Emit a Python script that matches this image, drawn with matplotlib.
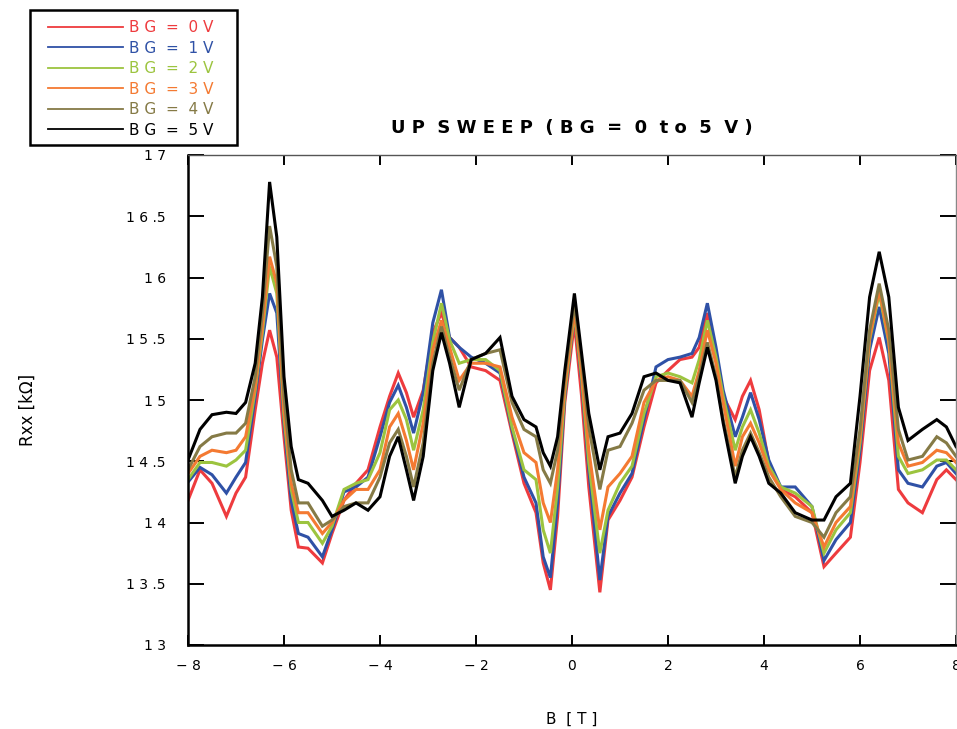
import matplotlib
matplotlib.use("Agg")
import matplotlib.pyplot as plt
from matplotlib.patches import Rectangle

# ---- data ----
B = [-8.0, -7.75, -7.5, -7.2, -7.0, -6.8, -6.6, -6.45, -6.3, -6.15, -6.0, -5.85, -5.7, -5.5,
     -5.2, -5.0, -4.75, -4.5, -4.25, -4.0, -3.8, -3.62, -3.45, -3.3, -3.1, -2.9, -2.72, -2.55,
     -2.35, -2.1, -1.8, -1.5, -1.25, -1.0, -0.75, -0.6, -0.45, -0.3, -0.15, 0.05, 0.2, 0.35,
     0.58, 0.75, 1.0, 1.25, 1.5, 1.75, 2.0, 2.25, 2.5, 2.65, 2.82, 3.0, 3.15, 3.4, 3.55, 3.72,
     3.9, 4.1, 4.35, 4.65, 5.0, 5.25, 5.5, 5.8, 6.0, 6.2, 6.4, 6.6, 6.8, 7.0, 7.3, 7.6, 7.8, 8.0]

R_bg5 = [14.51, 14.76, 14.88, 14.90, 14.89, 14.98, 15.30, 15.84, 16.78, 16.33, 15.19, 14.62, 14.35, 14.32,
         14.18, 14.05, 14.10, 14.16, 14.10, 14.21, 14.54, 14.70, 14.43, 14.18, 14.54, 15.24, 15.55, 15.30,
         14.94, 15.33, 15.38, 15.51, 15.03, 14.84, 14.78, 14.57, 14.46, 14.70, 15.24, 15.87, 15.38, 14.89,
         14.43, 14.70, 14.73, 14.89, 15.19, 15.22, 15.16, 15.14, 14.86, 15.14, 15.43, 15.16, 14.81, 14.32, 14.54, 14.70,
         14.54, 14.32, 14.24, 14.08, 14.02, 14.02, 14.21, 14.32, 15.03, 15.84, 16.21, 15.84, 14.94, 14.67, 14.76, 14.84, 14.78, 14.62]
R_bg4 = [14.43, 14.62, 14.70, 14.73, 14.73, 14.81, 15.19, 15.71, 16.42, 16.09, 15.03, 14.43, 14.16, 14.16,
         13.97, 14.02, 14.13, 14.16, 14.16, 14.37, 14.65, 14.76, 14.54, 14.29, 14.65, 15.30, 15.60, 15.35,
         15.08, 15.33, 15.38, 15.41, 14.98, 14.76, 14.70, 14.43, 14.32, 14.59, 15.19, 15.79, 15.33, 14.78,
         14.27, 14.59, 14.62, 14.81, 15.08, 15.16, 15.16, 15.16, 14.98, 15.19, 15.47, 15.19, 14.84, 14.37, 14.59, 14.73,
         14.57, 14.37, 14.21, 14.05, 14.00, 13.88, 14.08, 14.21, 14.76, 15.57, 15.95, 15.57, 14.76, 14.51, 14.54, 14.70, 14.65, 14.54]
R_bg3 = [14.40, 14.54, 14.59, 14.57, 14.59, 14.70, 15.11, 15.60, 16.17, 15.95, 14.92, 14.32, 14.08, 14.08,
         13.91, 14.00, 14.18, 14.27, 14.27, 14.43, 14.78, 14.89, 14.67, 14.43, 14.81, 15.41, 15.65, 15.43,
         15.16, 15.30, 15.30, 15.27, 14.86, 14.57, 14.49, 14.16, 14.00, 14.43, 15.11, 15.73, 15.24, 14.59,
         13.94, 14.29, 14.40, 14.54, 14.98, 15.16, 15.19, 15.16, 15.03, 15.24, 15.57, 15.30, 14.98, 14.46, 14.70, 14.81,
         14.65, 14.43, 14.27, 14.16, 14.08, 13.80, 14.00, 14.13, 14.70, 15.51, 15.90, 15.49, 14.65, 14.46, 14.49, 14.59, 14.57, 14.49]
R_bg2 = [14.35, 14.49, 14.49, 14.46, 14.51, 14.59, 15.08, 15.55, 16.09, 15.87, 14.86, 14.27, 14.00, 14.00,
         13.83, 13.97, 14.27, 14.32, 14.35, 14.57, 14.92, 15.00, 14.84, 14.59, 14.92, 15.47, 15.79, 15.49,
         15.30, 15.33, 15.33, 15.24, 14.78, 14.43, 14.35, 13.94, 13.75, 14.29, 15.06, 15.71, 15.19, 14.49,
         13.75, 14.10, 14.32, 14.46, 14.89, 15.19, 15.22, 15.19, 15.14, 15.33, 15.65, 15.35, 15.03, 14.59, 14.78, 14.92,
         14.73, 14.46, 14.29, 14.24, 14.13, 13.75, 13.94, 14.08, 14.65, 15.49, 15.87, 15.47, 14.54, 14.40, 14.43, 14.51, 14.51, 14.43]
R_bg1 = [14.33, 14.45, 14.39, 14.24, 14.37, 14.49, 15.03, 15.49, 15.87, 15.71, 14.81, 14.18, 13.91, 13.88,
         13.72, 13.94, 14.25, 14.29, 14.37, 14.70, 14.98, 15.12, 14.94, 14.73, 15.06, 15.63, 15.90, 15.51,
         15.43, 15.35, 15.30, 15.22, 14.76, 14.37, 14.16, 13.72, 13.55, 14.16, 15.03, 15.71, 15.16, 14.43,
         13.53, 14.05, 14.24, 14.40, 14.84, 15.27, 15.33, 15.35, 15.38, 15.51, 15.79, 15.43, 15.08, 14.70, 14.86, 15.06,
         14.84, 14.51, 14.29, 14.29, 14.13, 13.69, 13.86, 14.00, 14.59, 15.41, 15.76, 15.38, 14.43, 14.32, 14.29, 14.46, 14.49, 14.40]
R_bg0 = [14.18, 14.43, 14.32, 14.05, 14.24, 14.37, 14.92, 15.30, 15.57, 15.35, 14.70, 14.10, 13.80, 13.79,
         13.67, 13.91, 14.18, 14.32, 14.43, 14.78, 15.03, 15.22, 15.06, 14.86, 15.08, 15.55, 15.71, 15.51,
         15.43, 15.27, 15.24, 15.16, 14.73, 14.32, 14.08, 13.67, 13.45, 14.05, 14.98, 15.63, 15.03, 14.29,
         13.43, 14.02, 14.18, 14.37, 14.78, 15.14, 15.24, 15.33, 15.35, 15.43, 15.71, 15.35, 15.03, 14.84, 15.03, 15.16,
         14.92, 14.49, 14.27, 14.21, 14.08, 13.64, 13.75, 13.88, 14.49, 15.24, 15.51, 15.16, 14.27, 14.16, 14.08, 14.35, 14.43, 14.35]

series_labels = ["B G  =  0 V", "B G  =  1 V", "B G  =  2 V",
                 "B G  =  3 V", "B G  =  4 V", "B G  =  5 V"]
series_values = [R_bg0, R_bg1, R_bg2, R_bg3, R_bg4, R_bg5]
colors = ["#ee3b3e", "#2f51a6", "#9cc43f", "#f47a32", "#857a46", "#000000"]

x_ticks = [-8, -6, -4, -2, 0, 2, 4, 6, 8]
x_tick_labels = ["\u2212 8", "\u2212 6", "\u2212 4", "\u2212 2", "0", "2", "4", "6", "8"]
y_ticks = [13, 13.5, 14, 14.5, 15, 15.5, 16, 16.5, 17]
y_tick_labels = ["1 3", "1 3 .5", "1 4", "1 4 .5", "1 5", "1 5 .5", "1 6", "1 6 .5", "1 7"]

# ---- figure ----
W, H = 957, 729
fig = plt.figure(figsize=(W / 100, H / 100), dpi=100)
ax = fig.add_axes([188 / W, 1 - 645 / H, 768 / W, 490 / H])

for lab, vals, c in zip(series_labels, series_values, colors):
    ax.plot(B, vals, color=c, lw=2.2, label=lab, solid_joinstyle="miter")

ax.set_xlim(-8, 8)
ax.set_ylim(13, 17)
ax.set_xticks(x_ticks)
ax.set_xticklabels(x_tick_labels, fontsize=10)
ax.set_yticks(y_ticks)
ax.set_yticklabels(y_tick_labels, fontsize=10)
ax.tick_params(axis="x", direction="in", length=7.5, width=1.4, top=True, pad=10)
ax.tick_params(axis="y", direction="in", length=11.5, width=1.4, right=True, pad=16)

ax.spines["left"].set_linewidth(1.8)
ax.spines["bottom"].set_linewidth(1.8)
ax.spines["top"].set_linewidth(1.0)
ax.spines["top"].set_color("#555555")
ax.spines["right"].set_linewidth(1.0)
ax.spines["right"].set_color("#888888")

ax.set_title("U P  S W E E P  ( B G  =  0  t o  5  V )", fontsize=13, fontweight="bold", pad=16)
ax.set_xlabel("B  [ T ]", fontsize=11, labelpad=28)
ax.set_ylabel("Rxx [k\u03a9]", fontsize=12)
ax.yaxis.set_label_coords(-0.197, 0.48)

leg = fig.legend(loc="upper left", bbox_to_anchor=(45 / W, 1 - 17 / H),
                 fontsize=11, frameon=False,
                 handlelength=4.9, handletextpad=0.4, labelspacing=0.36,
                 borderpad=0.2, borderaxespad=0.0, labelcolor="linecolor")
for line in leg.get_lines():
    line.set_linewidth(1.3)

# legend box
fig.patches.append(Rectangle((30 / W, 1 - 145 / H), 207 / W, 135 / H,
                             transform=fig.transFigure, fill=False,
                             edgecolor="black", linewidth=1.8))

fig.savefig("out.png", dpi=100)
